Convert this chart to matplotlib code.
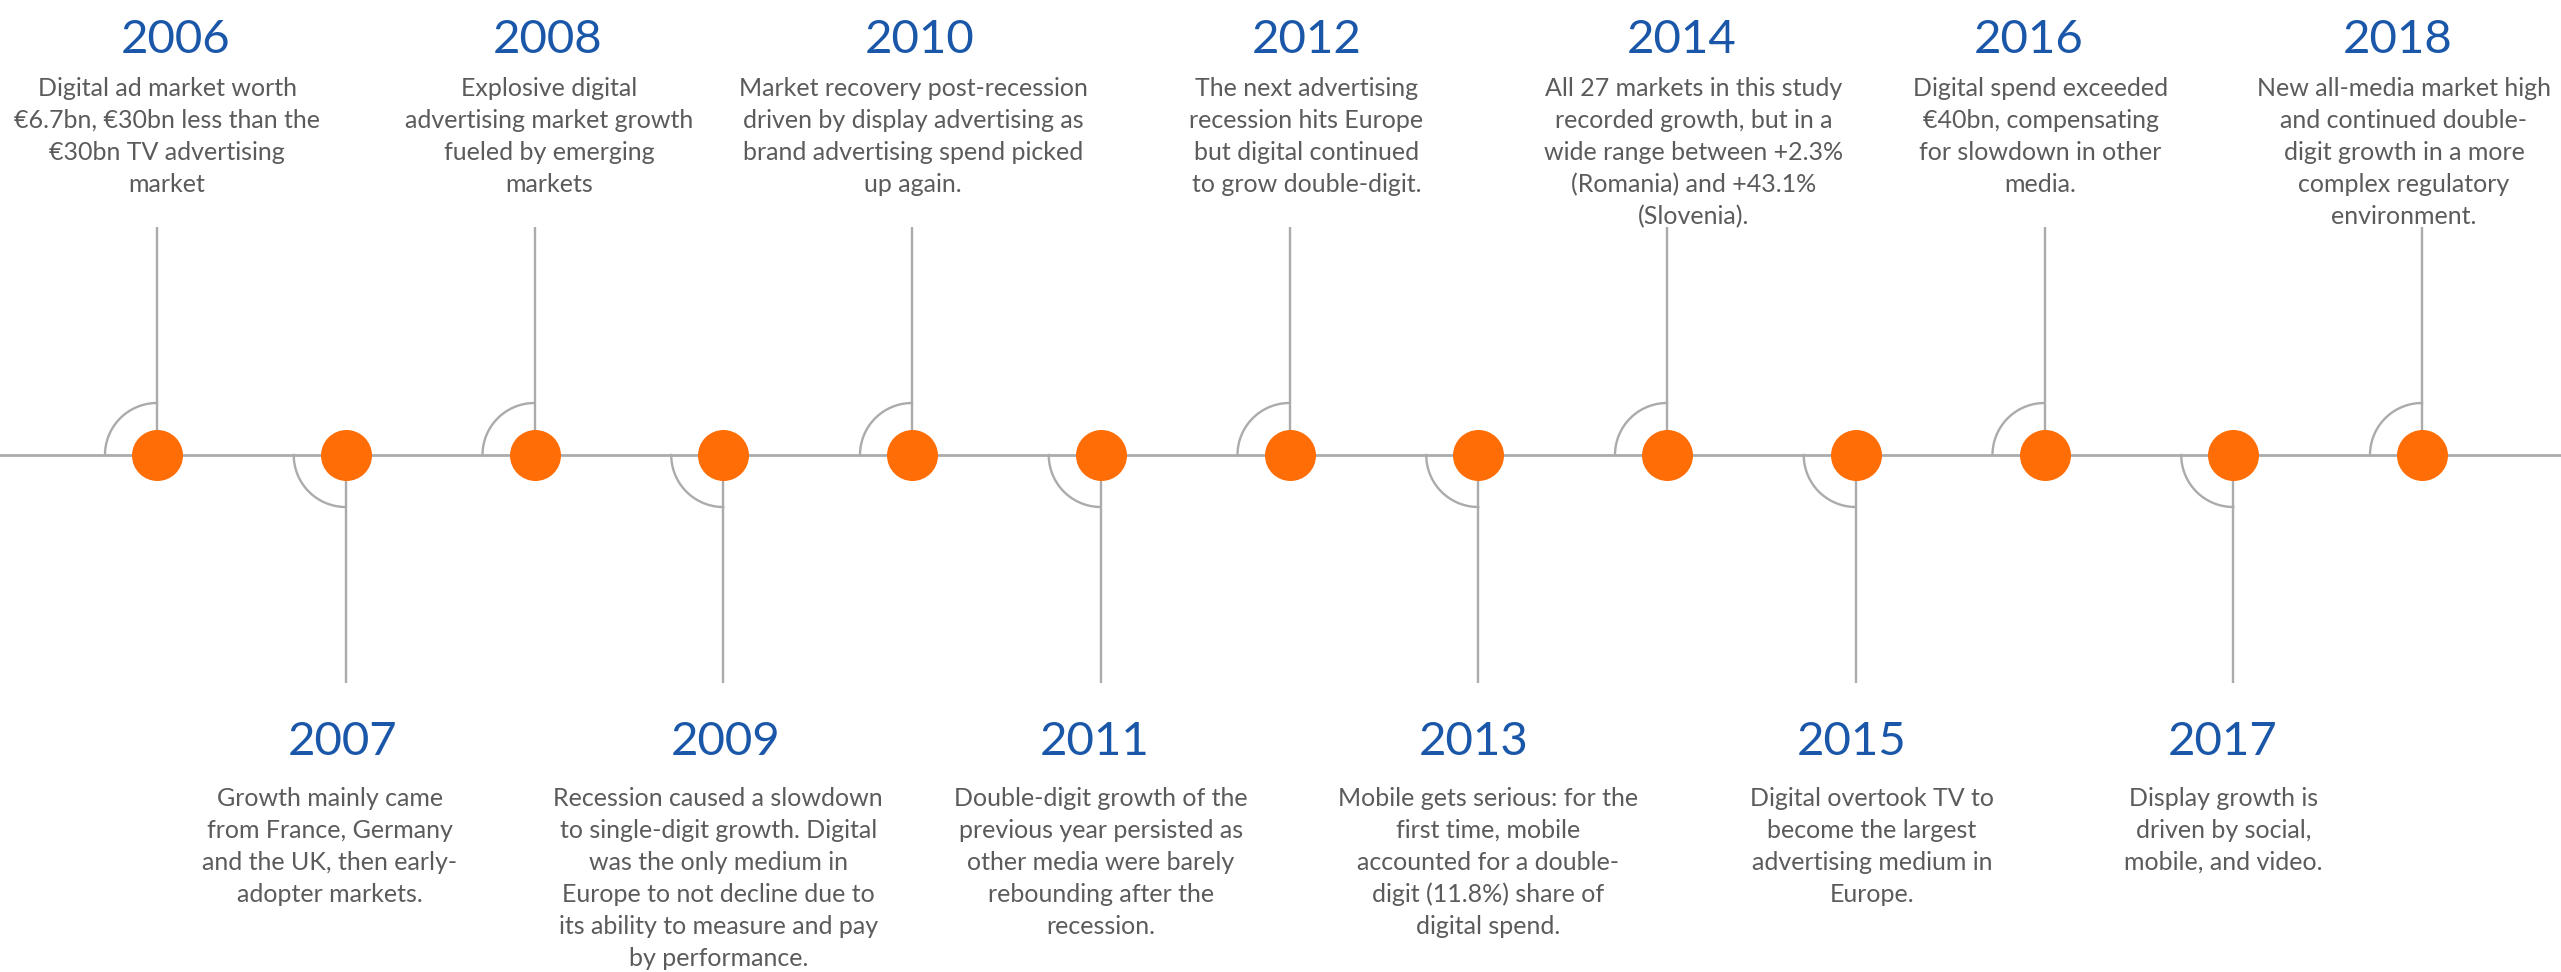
import numpy as np
import matplotlib
matplotlib.use('Agg')
import matplotlib.pyplot as plt

# ─── DATA ─────────────────────────────────────────────────────────────────────
years = [2006, 2007, 2008, 2009, 2010, 2011, 2012,
         2013, 2014, 2015, 2016, 2017, 2018]

descriptions = [
    ["Digital ad market worth", "€6.7bn, €30bn less than the",
     "€30bn TV advertising", "market"],
    ["Growth mainly came", "from France, Germany",
     "and the UK, then early-", "adopter markets."],
    ["Explosive digital", "advertising market growth",
     "fueled by emerging", "markets"],
    ["Recession caused a slowdown", "to single-digit growth. Digital",
     "was the only medium in", "Europe to not decline due to",
     "its ability to measure and pay", "by performance."],
    ["Market recovery post-recession", "driven by display advertising as",
     "brand advertising spend picked", "up again."],
    ["Double-digit growth of the", "previous year persisted as",
     "other media were barely", "rebounding after the", "recession."],
    ["The next advertising", "recession hits Europe",
     "but digital continued", "to grow double-digit."],
    ["Mobile gets serious: for the", "first time, mobile",
     "accounted for a double-", "digit (11.8%) share of", "digital spend."],
    ["All 27 markets in this study", "recorded growth, but in a",
     "wide range between +2.3%", "(Romania) and +43.1%", "(Slovenia)."],
    ["Digital overtook TV to", "become the largest",
     "advertising medium in", "Europe."],
    ["Digital spend exceeded", "€40bn, compensating",
     "for slowdown in other", "media."],
    ["Display growth is", "driven by social,", "mobile, and video."],
    ["New all-media market high", "and continued double-",
     "digit growth in a more", "complex regulatory", "environment."],
]

# ─── LAYOUT (pixels) ──────────────────────────────────────────────────────────
W, H, DPI = 2561, 972, 100
AXIS_Y = 455
X0, STEP = 157, 188.75          # first dot position and spacing per year
STEM_TOP, STEM_BOTTOM = 227, 683
ARC_R = 52
DOT_D = 51
LINE_STEP = 32
YEAR_BASE = {'up': 53, 'down': 755}
DESC_BASE = {'up': 96, 'down': 806}
# small horizontal nudges of the text blocks, as in the original layout
year_dx = [19, -3, 13, 2, 8, -6, 17, -5, 15, -4, -16, -11, -24]
desc_dx = [10, -16, 15, -5, 1, 0, 17, 10, 27, 16, -4, -10, -18]

ORANGE = '#FF6D06'
BLUE = '#1B57A9'
GREY_TXT = '#5B5B5B'
GREY_LINE = '#ABABAB'
FONT = ['Lato', 'DejaVu Sans']

fig = plt.figure(figsize=(W / DPI, H / DPI), dpi=DPI)
ax = fig.add_axes([0, 0, 1, 1])
ax.set_xlim(years[0] - X0 / STEP, years[0] + (W - X0) / STEP)
ax.set_ylim(H, 0)
ax.axis('off')

renderer = fig.canvas.get_renderer()


def fit_size(text, target_px):
    t = fig.text(0, 0, text, fontsize=10, family=FONT)
    w = t.get_window_extent(renderer=renderer).width
    t.remove()
    return 10 * target_px / w


DESC_SIZE = fit_size("All 27 markets in this study", 298)
YEAR_SIZE = fit_size("2006", 110)
px = 1 / STEP   # one pixel in year units

ax.axhline(AXIS_Y, color=GREY_LINE, lw=2.0, zorder=1)

theta = np.linspace(0, np.pi / 2, 60)
for i, (yr, lines) in enumerate(zip(years, descriptions)):
    side = 'up' if i % 2 == 0 else 'down'
    sgn = -1 if side == 'up' else 1

    # stem
    end = STEM_TOP if side == 'up' else STEM_BOTTOM
    ax.plot([yr, yr], [AXIS_Y, end], color=GREY_LINE, lw=1.7, zorder=1,
            solid_capstyle='butt')
    # quarter arc on the left of the dot
    ax.plot(yr - ARC_R * np.cos(theta) * px, AXIS_Y + sgn * ARC_R * np.sin(theta),
            color=GREY_LINE, lw=1.7, zorder=1)

    # year label
    ax.text(yr + year_dx[i] * px, YEAR_BASE[side], str(yr), ha='center',
            va='baseline', color=BLUE, fontsize=YEAR_SIZE, family=FONT)
    # description
    for k, line in enumerate(lines):
        ax.text(yr + desc_dx[i] * px, DESC_BASE[side] + k * LINE_STEP, line,
                ha='center', va='baseline', color=GREY_TXT,
                fontsize=DESC_SIZE, family=FONT)

ax.scatter(years, [AXIS_Y] * len(years), s=(DOT_D * 72 / DPI) ** 2,
           color=ORANGE, zorder=3, linewidths=0)

fig.savefig('out.png', dpi=DPI, facecolor='white')
